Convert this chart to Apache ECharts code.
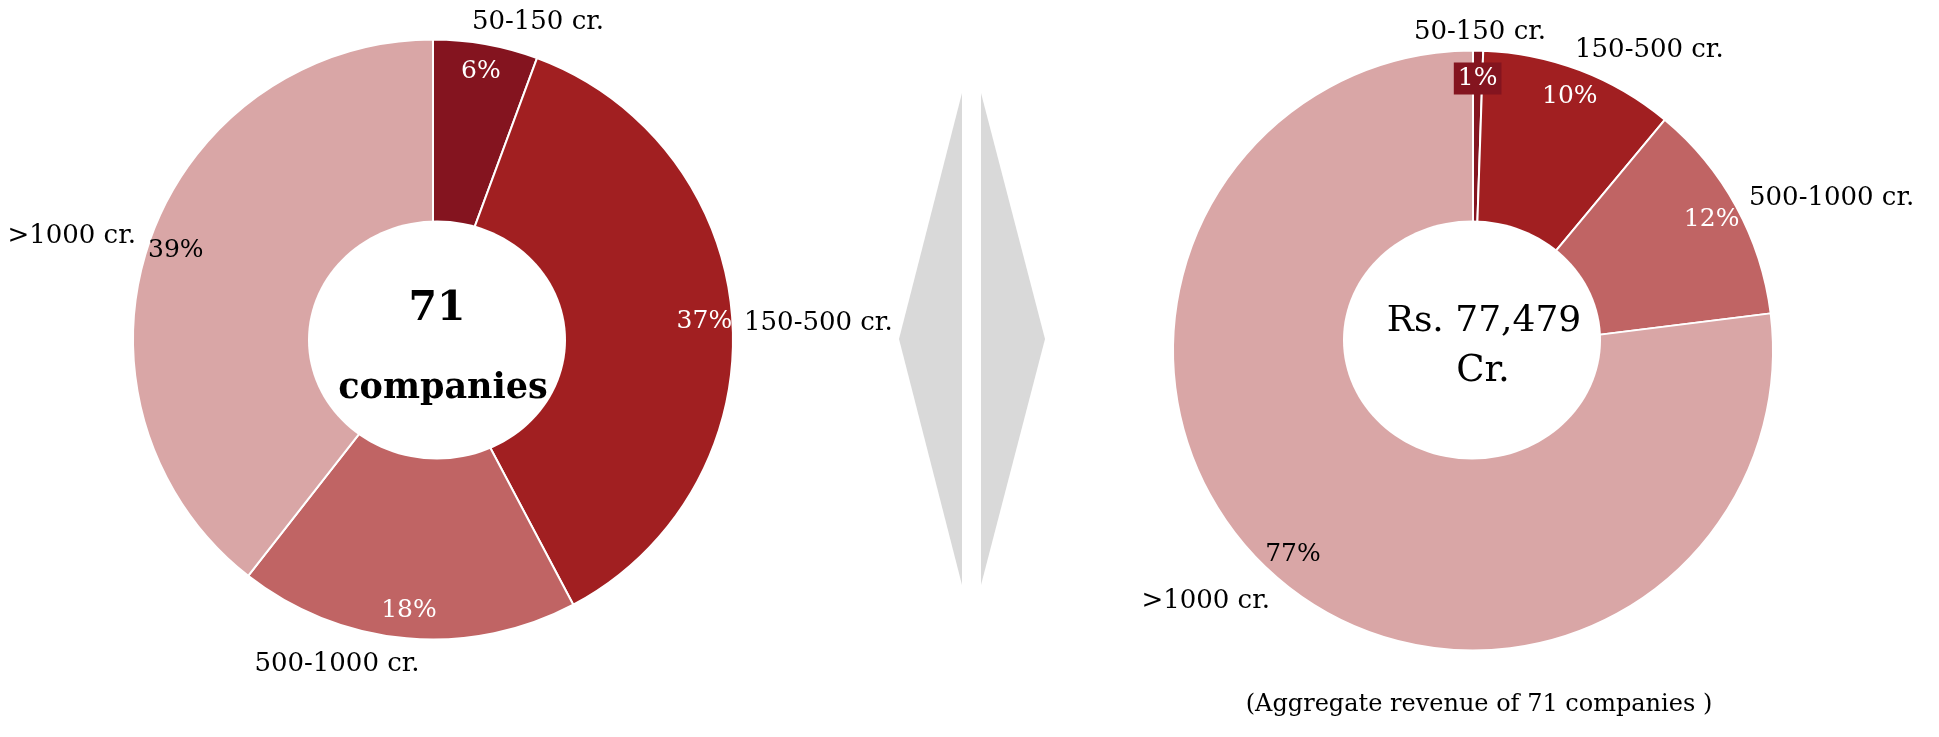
<!DOCTYPE html>
<html>
<head>
<meta charset="utf-8">
<title>Company size distribution</title>
<script src="https://cdn.jsdelivr.net/npm/echarts@6/dist/echarts.min.js"></script>
<style>
  html, body { margin: 0; padding: 0; background: #ffffff; }
  #chart { width: 1939px; height: 737px; }
</style>
</head>
<body>
<div id="chart"></div>
<script>
// Revenue bands and the two breakdowns drawn as rings
const categories = ['50-150 cr.', '150-500 cr.', '500-1000 cr.', '>1000 cr.'];
const companyCounts = [4, 26, 13, 28];          // number of companies per band
const revenueCr = [420, 8130, 9290, 59639];      // revenue per band, Rs. crore

// Styling
const sliceColors = ['#84141F', '#A11F21', '#C06464', '#D9A6A6'];
const pctColors = ['#ffffff', '#ffffff', '#ffffff', '#000000'];
const FONT = '"DejaVu Serif", Georgia, serif';

// Ring geometry (pixels)
const leftRing = { center: [433, 339.5], inner: 110, outer: 300, hole: { cx: 437, cy: 340, rx: 129, ry: 119.5 } };
const rightRing = { center: [1473, 350.5], inner: 100, outer: 300, hole: { cx: 1472, cy: 340, rx: 129, ry: 119.5 } };

// Category label anchors relative to each ring's centre: [dx, dy, align]
const leftNameSpots = [[105, -317, 'center'], [311, -16, 'left'], [-96, 325, 'center'], [-297, -103, 'right']];
const rightNameSpots = [[7, -318, 'center'], [102, -300, 'left'], [276, -152, 'left'], [-203, 251, 'right']];

const sum = arr => arr.reduce((a, b) => a + b, 0);
const totalCompanies = sum(companyCounts);
const totalRevenue = sum(revenueCr);

function ringSeries(values, geo, spots, boxedIndex) {
  const ring = {
    type: 'pie',
    center: geo.center,
    radius: [geo.inner, geo.outer],
    startAngle: 90,
    clockwise: true,
    silent: true,
    avoidLabelOverlap: false,
    percentPrecision: 0,
    itemStyle: { borderColor: '#ffffff', borderWidth: 2 },
    label: {
      show: true, position: 'outside', formatter: '{b}',
      color: '#000000', fontFamily: FONT, fontSize: 26
    },
    labelLine: { show: false },
    labelLayout: function (p) {
      const s = spots[p.dataIndex];
      return { x: geo.center[0] + s[0], y: geo.center[1] + s[1], align: s[2], verticalAlign: 'middle' };
    },
    data: values.map((v, i) => ({ name: categories[i], value: v, itemStyle: { color: sliceColors[i] } }))
  };
  // Transparent outer band that carries the percentage labels near the rim
  const pctBand = {
    type: 'pie',
    center: geo.center,
    radius: [238, geo.outer],
    startAngle: 90,
    clockwise: true,
    silent: true,
    z: 3,
    avoidLabelOverlap: false,
    percentPrecision: 0,
    itemStyle: { color: 'rgba(0,0,0,0)', borderWidth: 0 },
    label: { show: true, position: 'inside', formatter: '{d}%', fontFamily: FONT, fontSize: 25 },
    labelLine: { show: false },
    data: values.map((v, i) => {
      const lbl = { color: pctColors[i] };
      if (i === boxedIndex) {
        lbl.backgroundColor = sliceColors[i];
        lbl.padding = [4, 4, 3, 4];
      }
      return { name: categories[i], value: v, label: lbl };
    })
  };
  return [ring, pctBand];
}

function centerText(x, y, text, font) {
  return {
    type: 'text', x: x, y: y, z: 120,
    style: {
      text: text, font: font, fill: '#000000',
      align: 'center', verticalAlign: 'middle',
      textAlign: 'center', textVerticalAlign: 'middle'
    }
  };
}

const chart = echarts.init(document.getElementById('chart'), null, { renderer: 'canvas' });

chart.setOption({
  backgroundColor: '#ffffff',
  animation: false,
  series: [
    ...ringSeries(companyCounts, leftRing, leftNameSpots, -1),
    ...ringSeries(revenueCr, rightRing, rightNameSpots, 0)
  ],
  graphic: [
    // centre holes
    { type: 'ellipse', z: 100, shape: leftRing.hole, style: { fill: '#ffffff' } },
    { type: 'ellipse', z: 100, shape: rightRing.hole, style: { fill: '#ffffff' } },
    // divider between the two rings
    { type: 'polygon', z: 100, shape: { points: [[899, 339], [962, 93], [962, 585]] }, style: { fill: '#D9D9D9' } },
    { type: 'polygon', z: 100, shape: { points: [[981, 93], [1045, 339], [981, 585]] }, style: { fill: '#D9D9D9' } },
    // centre captions
    centerText(437, 309, String(totalCompanies), 'bold 41px "DejaVu Serif", Georgia, serif'),
    centerText(443, 389, 'companies', 'bold 35px "DejaVu Serif", Georgia, serif'),
    centerText(1484, 322, 'Rs. ' + totalRevenue.toLocaleString('en-US'), '36px "DejaVu Serif", Georgia, serif'),
    centerText(1483, 371, 'Cr.', '37px "DejaVu Serif", Georgia, serif'),
    centerText(1479, 705, '(Aggregate revenue of ' + totalCompanies + ' companies )', '24px "DejaVu Serif", Georgia, serif')
  ]
});
</script>
</body>
</html>
